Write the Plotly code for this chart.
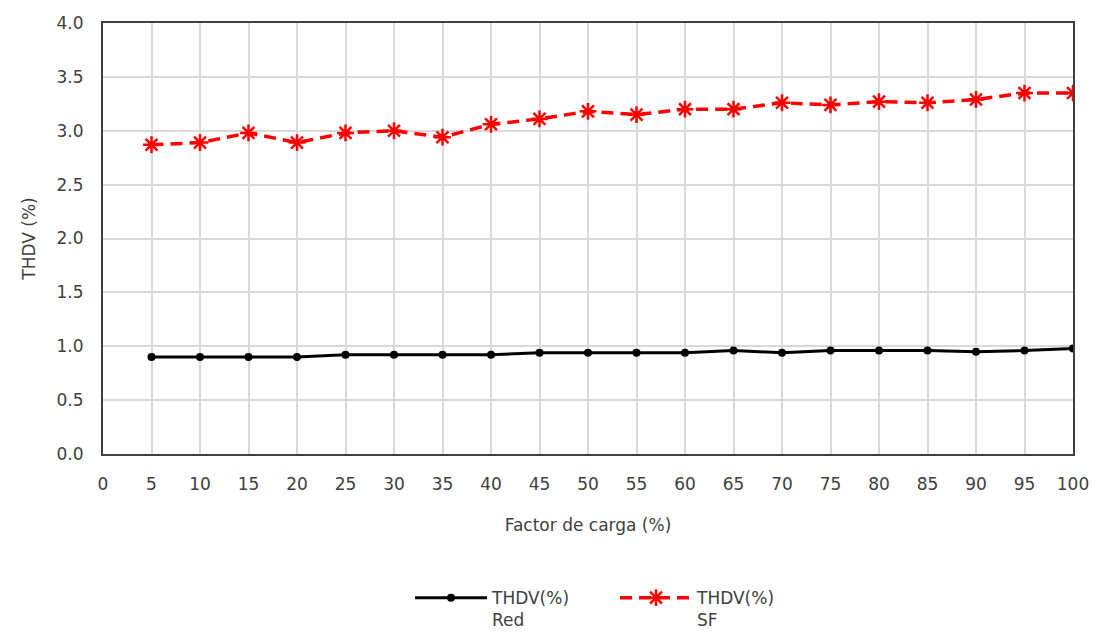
import plotly.graph_objects as go

factor_carga = [5, 10, 15, 20, 25, 30, 35, 40, 45, 50,
                55, 60, 65, 70, 75, 80, 85, 90, 95, 100]
thdv_red = [0.90, 0.90, 0.90, 0.90, 0.92, 0.92, 0.92, 0.92, 0.94, 0.94,
            0.94, 0.94, 0.96, 0.94, 0.96, 0.96, 0.96, 0.95, 0.96, 0.98]
thdv_sf = [2.87, 2.89, 2.98, 2.89, 2.98, 3.00, 2.94, 3.06, 3.11, 3.18,
           3.15, 3.20, 3.20, 3.26, 3.24, 3.27, 3.26, 3.29, 3.35, 3.35]
x_ticks = list(range(0, 101, 5))
y_ticks = [i * 0.5 for i in range(9)]

FONT = "DejaVu Sans"
TXT = "#404040"
FS = 17

fig = go.Figure()
fig.add_trace(go.Scatter(
    x=factor_carga, y=thdv_red, name="THDV(%)<br>Red",
    mode="lines+markers",
    line=dict(color="black", width=3),
    marker=dict(symbol="circle", size=8, color="black"),
))
fig.add_trace(go.Scatter(
    x=factor_carga, y=thdv_sf, name="THDV(%)<br>SF",
    mode="lines+markers",
    line=dict(color="#ff0000", width=3.5, dash="12px,7px"),
    marker=dict(symbol="asterisk", size=14,
                line=dict(color="#ff0000", width=2.5)),
))

axis_common = dict(
    showgrid=True, gridcolor="#d9d9d9", gridwidth=1.5,
    showline=True, linecolor="#404040", linewidth=2, mirror=True,
    ticks="outside", ticklen=14, tickcolor="rgba(0,0,0,0)",
    zeroline=False,
    tickfont=dict(family=FONT, size=FS, color=TXT),
)

fig.update_layout(
    width=1094, height=634,
    margin=dict(l=103, r=21, t=23, b=180, autoexpand=False),
    paper_bgcolor="white", plot_bgcolor="white",
    font=dict(family=FONT, size=FS, color=TXT),
    xaxis=dict(range=[0, 100], tickvals=x_ticks,
               ticktext=[str(v) for v in x_ticks],
               title=dict(text="Factor de carga (%)",
                          font=dict(family=FONT, size=FS, color=TXT),
                          standoff=26),
               **axis_common),
    yaxis=dict(range=[0, 4], tickvals=y_ticks,
               ticktext=[f"{v:.1f}" for v in y_ticks],
               title=dict(text="THDV (%)",
                          font=dict(family=FONT, size=FS, color=TXT),
                          standoff=17),
               **axis_common),
    legend=dict(orientation="h", x=0.3165, xanchor="left",
                yref="container", y=0.085, yanchor="top",
                valign="top",
                font=dict(family=FONT, size=FS, color=TXT),
                entrywidth=118, itemwidth=72, traceorder="normal"),
)

fig.write_html("out.html")
